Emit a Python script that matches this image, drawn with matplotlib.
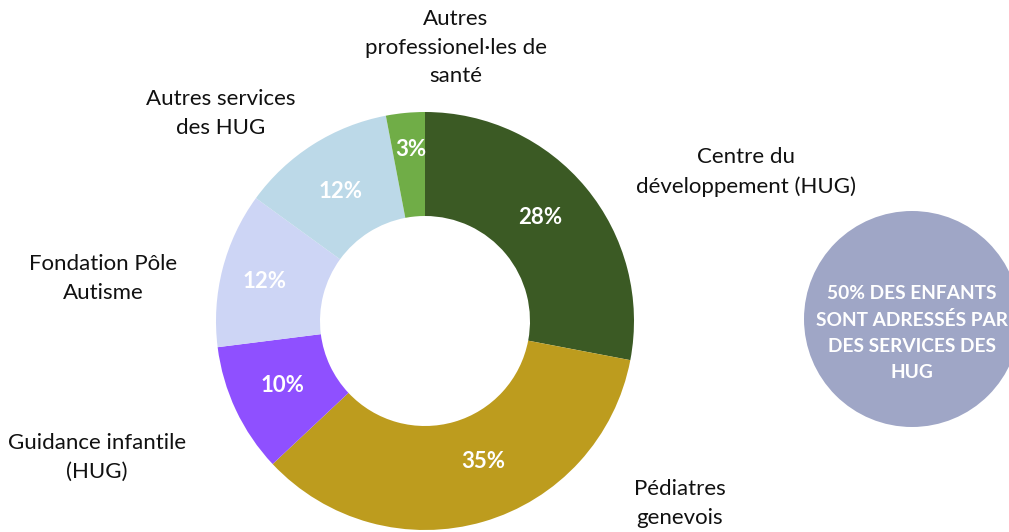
import matplotlib
matplotlib.use("Agg")
import matplotlib.pyplot as plt
from matplotlib.patches import Circle

plt.rcParams['font.family'] = ['Lato', 'DejaVu Sans']

# ---- data ----
categories = [
    "Centre du\ndéveloppement (HUG)",
    "Pédiatres\ngenevois",
    "Guidance infantile\n(HUG)",
    "Fondation Pôle\nAutisme",
    "Autres services\ndes HUG",
    "Autres\nprofessionel·les de\nsanté",
]
values = [28, 35, 10, 12, 12, 3]
colors = ["#3b5a24", "#bd9c1e", "#8f50ff", "#cdd5f5", "#bcd9e8", "#70ad47"]
callout_text = "50% DES ENFANTS\nSONT ADRESSÉS PAR\nDES SERVICES DES\nHUG"

# ---- layout (pixel coordinates, y up) ----
W, H = 1009, 532
fig = plt.figure(figsize=(W / 100, H / 100), dpi=100)
ax = fig.add_axes([0, 0, 1, 1])

cx, cy, R = 425, H - 321, 209
wedges, texts, autotexts = ax.pie(
    values, colors=colors, startangle=90, counterclock=False,
    center=(cx, cy), radius=R,
    wedgeprops=dict(width=R - 105, linewidth=0),
    autopct=lambda p: f"{p:.0f}%", pctdistance=0.76,
    textprops=dict(color="white", fontsize=16, fontweight="bold"),
)

# percentage label positions (pixels, y from top)
pct_pos = [(540, 218), (483, 462), (282, 386), (265, 281), (341, 192), (411, 149)]
for t, (x, y) in zip(autotexts, pct_pos):
    t.set_position((x, H - y))
    t.set_ha("center")
    t.set_va("center")

# outer category labels (center of first line: x, y from top)
label_pos = [(746, 155), (680, 487), (97, 441), (103, 262), (221, 97), (456, 17)]
for lab, (x, y) in zip(categories, label_pos):
    ax.text(x, H - y + 8, lab, ha="center", va="top", fontsize=16,
            color="#111111", linespacing=1.54)

# right-hand callout circle
ax.add_patch(Circle((912, H - 319), 108, color="#9fa6c6", linewidth=0))
ax.text(912, H - 333, callout_text, ha="center", va="center",
        fontsize=13.8, fontweight="bold", color="white", linespacing=1.65)

ax.set_xlim(0, W)
ax.set_ylim(0, H)
ax.set_aspect("equal")
ax.axis("off")

fig.savefig("out.png", dpi=100)
